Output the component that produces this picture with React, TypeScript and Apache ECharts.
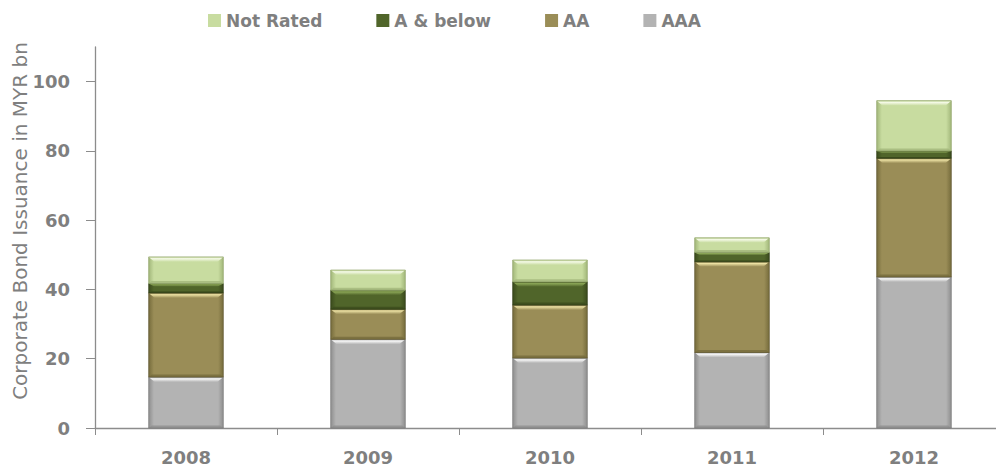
import React, { useEffect, useRef } from "react";
import * as echarts from "echarts";

const years = ["2008", "2009", "2010", "2011", "2012"];
const aaa = [14.7, 25.6, 20.2, 21.8, 43.6];
const aa = [24.3, 8.7, 15.3, 26.2, 34.3];
const aBelow = [2.7, 5.5, 6.7, 2.7, 2.1];
const notRated = [7.7, 5.8, 6.3, 4.2, 14.5];
const yTicks = [0, 20, 40, 60, 80, 100];
const legendNames = ["Not Rated", "A & below", "AA", "AAA"];

const FONT = "DejaVu Sans";
const GREY = "#7f7f7f";

type Pal = { base: string; light: string; dark: string; edge: string };
const palettes: Record<string, Pal> = {
  AAA: { base: "#b3b3b3", light: "#f6f6f6", dark: "#8e8e8e", edge: "#7a7a7a" },
  AA: { base: "#9a8d57", light: "#ebe0a2", dark: "#766c3c", edge: "#5f5730" },
  "A & below": { base: "#50652a", light: "#8aa556", dark: "#3b4b1d", edge: "#2f3c16" },
  "Not Rated": { base: "#c8dca0", light: "#f4f9e6", dark: "#a2b77a", edge: "#8fa366" },
};

export default function App() {
  const ref = useRef<HTMLDivElement>(null);
  useEffect(() => {
    document.body.style.margin = "0";
    document.body.style.overflow = "hidden";
    if (!ref.current) return;
    const chart = echarts.init(ref.current, null, { renderer: "svg" });

    const stackOrder: [string, number[]][] = [
      ["AAA", aaa],
      ["AA", aa],
      ["A & below", aBelow],
      ["Not Rated", notRated],
    ];
    const cum = years.map(() => 0);
    const series = stackOrder.map(([name, vals]) => {
      const data = vals.map((v, i) => {
        const lo = cum[i];
        cum[i] += v;
        return [i, lo, cum[i]];
      });
      const pal = palettes[name];
      return {
        name,
        type: "custom",
        itemStyle: { color: pal.base },
        encode: { x: 0, y: [1, 2] },
        data,
        renderItem: (params: any, api: any) => {
          const idx = api.value(0);
          const lo = api.value(1);
          const hi = api.value(2);
          const p0 = api.coord([idx, lo]);
          const p1 = api.coord([idx, hi]);
          const w = api.size([1, 0])[0] * 0.41;
          const x0 = p0[0] - w / 2;
          const x1 = p0[0] + w / 2;
          const yb = p0[1];
          const yt = p1[1];
          const h = yb - yt;
          const b = Math.min(5, h / 3);
          const s = Math.min(6, w / 6);
          return {
            type: "group",
            children: [
              {
                type: "rect",
                shape: { x: x0, y: yt, width: w, height: h },
                style: {
                  fill: new echarts.graphic.LinearGradient(0, 0, 1, 0, [
                    { offset: 0, color: pal.dark },
                    { offset: 0.07, color: pal.base },
                    { offset: 0.93, color: pal.base },
                    { offset: 1, color: pal.dark },
                  ]),
                },
              },
              {
                type: "polygon",
                shape: {
                  points: [
                    [x0, yt],
                    [x1, yt],
                    [x1 - s, yt + b],
                    [x0 + s, yt + b],
                  ],
                },
                style: {
                  fill: new echarts.graphic.LinearGradient(0, 0, 0, 1, [
                    { offset: 0, color: pal.base },
                    { offset: 0.35, color: pal.light },
                    { offset: 1, color: pal.base },
                  ]),
                },
              },
              {
                type: "polygon",
                shape: {
                  points: [
                    [x0, yb],
                    [x1, yb],
                    [x1 - s * 0.5, yb - b * 0.5],
                    [x0 + s * 0.5, yb - b * 0.5],
                  ],
                },
                style: { fill: pal.dark, opacity: 0.8 },
              },
              {
                type: "rect",
                shape: { x: x0, y: yt, width: w, height: h },
                style: { fill: "none", stroke: pal.edge, lineWidth: 1, opacity: 0.7 },
              },
            ],
          };
        },
      };
    });

    chart.setOption({
      animation: false,
      grid: { left: 95, right: 0, top: 47, bottom: 40 },
      legend: {
        data: legendNames,
        left: 208,
        top: 12,
        padding: 0,
        itemWidth: 13,
        itemHeight: 13,
        itemGap: 54,
        icon: "rect",
        textStyle: { fontFamily: FONT, fontWeight: "bold", fontSize: 17, color: GREY },
      },
      xAxis: {
        type: "category",
        data: years,
        axisLine: { lineStyle: { color: "#8c8c8c", width: 1.3 } },
        axisTick: { show: true, length: 7, interval: 0, lineStyle: { color: "#8c8c8c" } },
        axisLabel: {
          margin: 20,
          fontFamily: FONT,
          fontWeight: "bold",
          fontSize: 18,
          color: GREY,
          interval: 0,
        },
      },
      yAxis: {
        type: "value",
        min: 0,
        max: 110,
        interval: 20,
        splitLine: { show: false },
        axisLine: { show: true, lineStyle: { color: "#8c8c8c", width: 1.3 } },
        axisTick: {
          show: true,
          length: 9,
          customValues: yTicks,
          lineStyle: { color: "#8c8c8c" },
        },
        axisLabel: {
          customValues: yTicks,
          margin: 25,
          fontFamily: FONT,
          fontWeight: "bold",
          fontSize: 18,
          color: GREY,
        },
      },
      graphic: [
        {
          type: "text",
          x: 20,
          y: 221,
          rotation: Math.PI / 2,
          style: {
            text: "Corporate Bond Issuance in MYR bn",
            fontFamily: FONT,
            fontSize: 20,
            fill: GREY,
            align: "center",
            verticalAlign: "middle",
          },
        },
      ],
      series,
    });
    return () => chart.dispose();
  }, []);
  return <div ref={ref} style={{ width: 1005, height: 468 }} />;
}
